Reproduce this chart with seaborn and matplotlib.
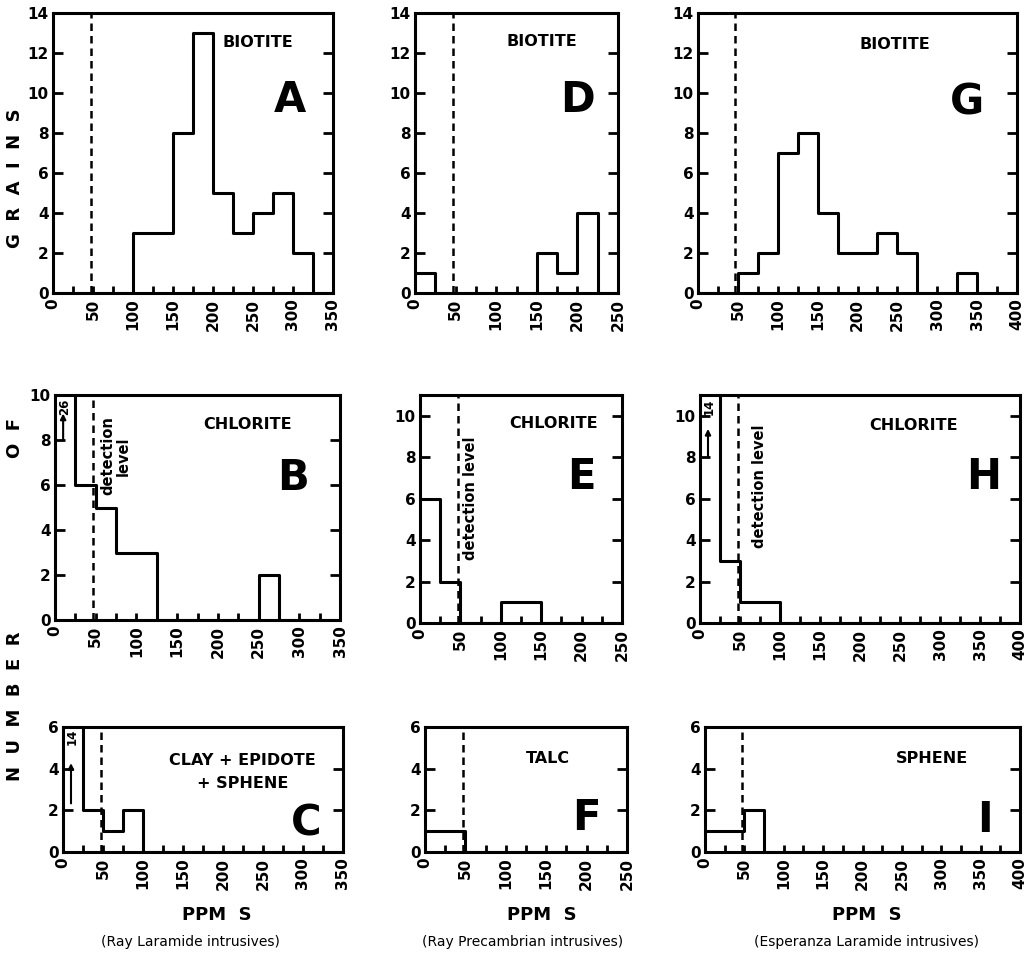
import numpy as np
import pandas as pd
import matplotlib
matplotlib.use("Agg")
import matplotlib.pyplot as plt
import seaborn as sns

sns.set_style("white")
plt.rcParams['font.family'] = ['DejaVu Sans']
plt.rcParams['font.weight'] = 'bold'
plt.rcParams['text.color'] = 'black'
plt.rcParams['xtick.color'] = 'black'
plt.rcParams['ytick.color'] = 'black'
plt.rcParams['axes.labelcolor'] = 'black'

BIN = 25
DETECTION = 47

# counts per 25-ppm bin, starting at 0 ppm
A_counts = [0, 0, 0, 0, 3, 3, 8, 13, 5, 3, 4, 5, 2, 0]
D_counts = [1, 0, 0, 0, 0, 0, 2, 1, 4, 0]
G_counts = [0, 0, 1, 2, 7, 8, 4, 2, 2, 3, 2, 0, 0, 1, 0, 0]
B_counts = [26, 6, 5, 3, 3, 0, 0, 0, 0, 0, 2, 0, 0, 0]
E_counts = [6, 2, 0, 0, 1, 1, 0, 0, 0, 0]
H_counts = [14, 3, 1, 1, 0, 0, 0, 0, 0, 0, 0, 0, 0, 0, 0, 0]
C_counts = [14, 2, 1, 2, 0, 0, 0, 0, 0, 0, 0, 0, 0, 0]
F_counts = [1, 1, 0, 0, 0, 0, 0, 0, 0, 0]
I_counts = [1, 1, 2, 0, 0, 0, 0, 0, 0, 0, 0, 0, 0, 0, 0, 0]

x_max = {"A": 350, "B": 350, "C": 350, "D": 250, "E": 250, "F": 250,
         "G": 400, "H": 400, "I": 400}
y_max = {"A": 14, "D": 14, "G": 14, "B": 10, "E": 11, "H": 11,
         "C": 6, "F": 6, "I": 6}
y_ticks = {"A": [0, 2, 4, 6, 8, 10, 12, 14], "D": [0, 2, 4, 6, 8, 10, 12, 14],
           "G": [0, 2, 4, 6, 8, 10, 12, 14], "B": [0, 2, 4, 6, 8, 10],
           "E": [0, 2, 4, 6, 8, 10], "H": [0, 2, 4, 6, 8, 10],
           "C": [0, 2, 4, 6], "F": [0, 2, 4, 6], "I": [0, 2, 4, 6]}
mineral = {"A": "BIOTITE", "D": "BIOTITE", "G": "BIOTITE",
           "B": "CHLORITE", "E": "CHLORITE", "H": "CHLORITE",
           "C": "CLAY + EPIDOTE\n+ SPHENE", "F": "TALC", "I": "SPHENE"}
counts = {"A": A_counts, "B": B_counts, "C": C_counts, "D": D_counts,
          "E": E_counts, "F": F_counts, "G": G_counts, "H": H_counts,
          "I": I_counts}
subtitles = ["(Ray Laramide intrusives)", "(Ray Precambrian intrusives)",
             "(Esperanza Laramide intrusives)"]

W, H = 1032, 958
fig = plt.figure(figsize=(W / 100, H / 100), dpi=100)

# pixel boxes (left, top, right, bottom)
boxes = {"A": (53, 13, 333, 293), "D": (415, 13, 618, 293), "G": (698, 13, 1017, 293),
         "B": (55, 395, 340, 620), "E": (420, 395, 622, 623), "H": (700, 395, 1020, 623),
         "C": (63, 727, 343, 852), "F": (425, 727, 627, 852), "I": (705, 727, 1020, 852)}

name_pos = {"A": (0.733, 0.896), "D": (0.626, 0.90), "G": (0.618, 0.886),
            "B": (0.677, 0.867), "E": (0.66, 0.877), "H": (0.668, 0.867),
            "C": (0.64, 0.64), "F": (0.61, 0.75), "I": (0.72, 0.75)}
letter_pos = {"A": (0.847, 0.69), "D": (0.80, 0.69), "G": (0.843, 0.68),
              "B": (0.835, 0.63), "E": (0.80, 0.64), "H": (0.885, 0.64),
              "C": (0.87, 0.23), "F": (0.80, 0.27), "I": (0.89, 0.26)}

axes = {}
for key, (l, t, r, b) in boxes.items():
    ax = fig.add_axes([l / W, 1 - b / H, (r - l) / W, (b - t) / H])
    axes[key] = ax
    c = counts[key]
    edges = [float(e) for e in np.arange(0, x_max[key] + BIN, BIN)]
    centers = [e + BIN / 2 for e in edges[:-1]]
    df = pd.DataFrame({"ppm": centers, "n": [float(v) for v in c]})
    sns.histplot(data=df, x="ppm", weights="n", bins=edges, element="step",
                 fill=False, color="black", linewidth=2.2, ax=ax)
    ax.axvline(DETECTION, color="black", linestyle=(0, (3, 2)), linewidth=1.8)
    ax.set_xlim(0, x_max[key])
    ax.set_ylim(0, y_max[key])
    ax.set_yticks(y_ticks[key])
    ax.set_xticks(np.arange(0, x_max[key] + 1, 50))
    ax.set_xticks(np.arange(0, x_max[key] + 1, 25), minor=True)
    ax.tick_params(axis="y", direction="in", length=7, width=2, right=True,
                   left=True, labelsize=11, pad=3)
    ax.tick_params(axis="x", which="both", direction="in", length=5, width=2,
                   bottom=True, top=False, labelsize=11, labelrotation=90, pad=4)
    for lab in ax.get_xticklabels() + ax.get_yticklabels():
        lab.set_fontweight("bold")
    ax.set_xlabel("")
    ax.set_ylabel("")
    for s in ax.spines.values():
        s.set_linewidth(2.2)
        s.set_color("black")
    nx, ny = name_pos[key]
    ax.text(nx, ny, mineral[key], transform=ax.transAxes, ha="center",
            va="center", fontsize=11.5, fontweight="bold", linespacing=1.6)
    lx, ly = letter_pos[key]
    ax.text(lx, ly, key, transform=ax.transAxes, ha="center", va="center",
            fontsize=30, fontweight="bold")

for key, label, ybase, ytop in [("B", "26", 7.9, 9.3), ("H", "14", 7.9, 9.5),
                                ("C", "14", 2.2, 4.4)]:
    ax = axes[key]
    ax.annotate("", xy=(10, ytop), xytext=(10, ybase),
                arrowprops=dict(arrowstyle="-|>", color="black", lw=1.5,
                                mutation_scale=8))
    ax.text(12, y_max[key] * 0.985, label, rotation=90, ha="center", va="top",
            fontsize=8.5, fontweight="bold")

axes["B"].text(74, 7.3, "detection\nlevel", rotation=90, ha="center",
               va="center", fontsize=10.5, fontweight="bold", linespacing=1.0)
axes["E"].text(63, 6.0, "detection level", rotation=90, ha="center",
               va="center", fontsize=10.5, fontweight="bold")
axes["H"].text(75, 6.6, "detection level", rotation=90, ha="center",
               va="center", fontsize=10.5, fontweight="bold")

for cx, sx, sub in [(217, 190, subtitles[0]), (542, 523, subtitles[1]),
                    (867, 867, subtitles[2])]:
    fig.text(cx / W, 1 - 915 / H, "PPM  S", ha="center", va="center",
             fontsize=13, fontweight="bold")
    fig.text(sx / W, 1 - 942 / H, sub, ha="center", va="center",
             fontsize=10, fontweight="normal")

fig.text(15 / W, 1 - 178 / H, "G  R  A  I  N  S", rotation=90, ha="center",
         va="center", fontsize=13, fontweight="bold")
fig.text(15 / W, 1 - 438 / H, "O  F", rotation=90, ha="center",
         va="center", fontsize=13, fontweight="bold")
fig.text(15 / W, 1 - 706 / H, "N  U  M  B  E  R", rotation=90, ha="center",
         va="center", fontsize=13, fontweight="bold")

fig.savefig("out.png", dpi=100)
